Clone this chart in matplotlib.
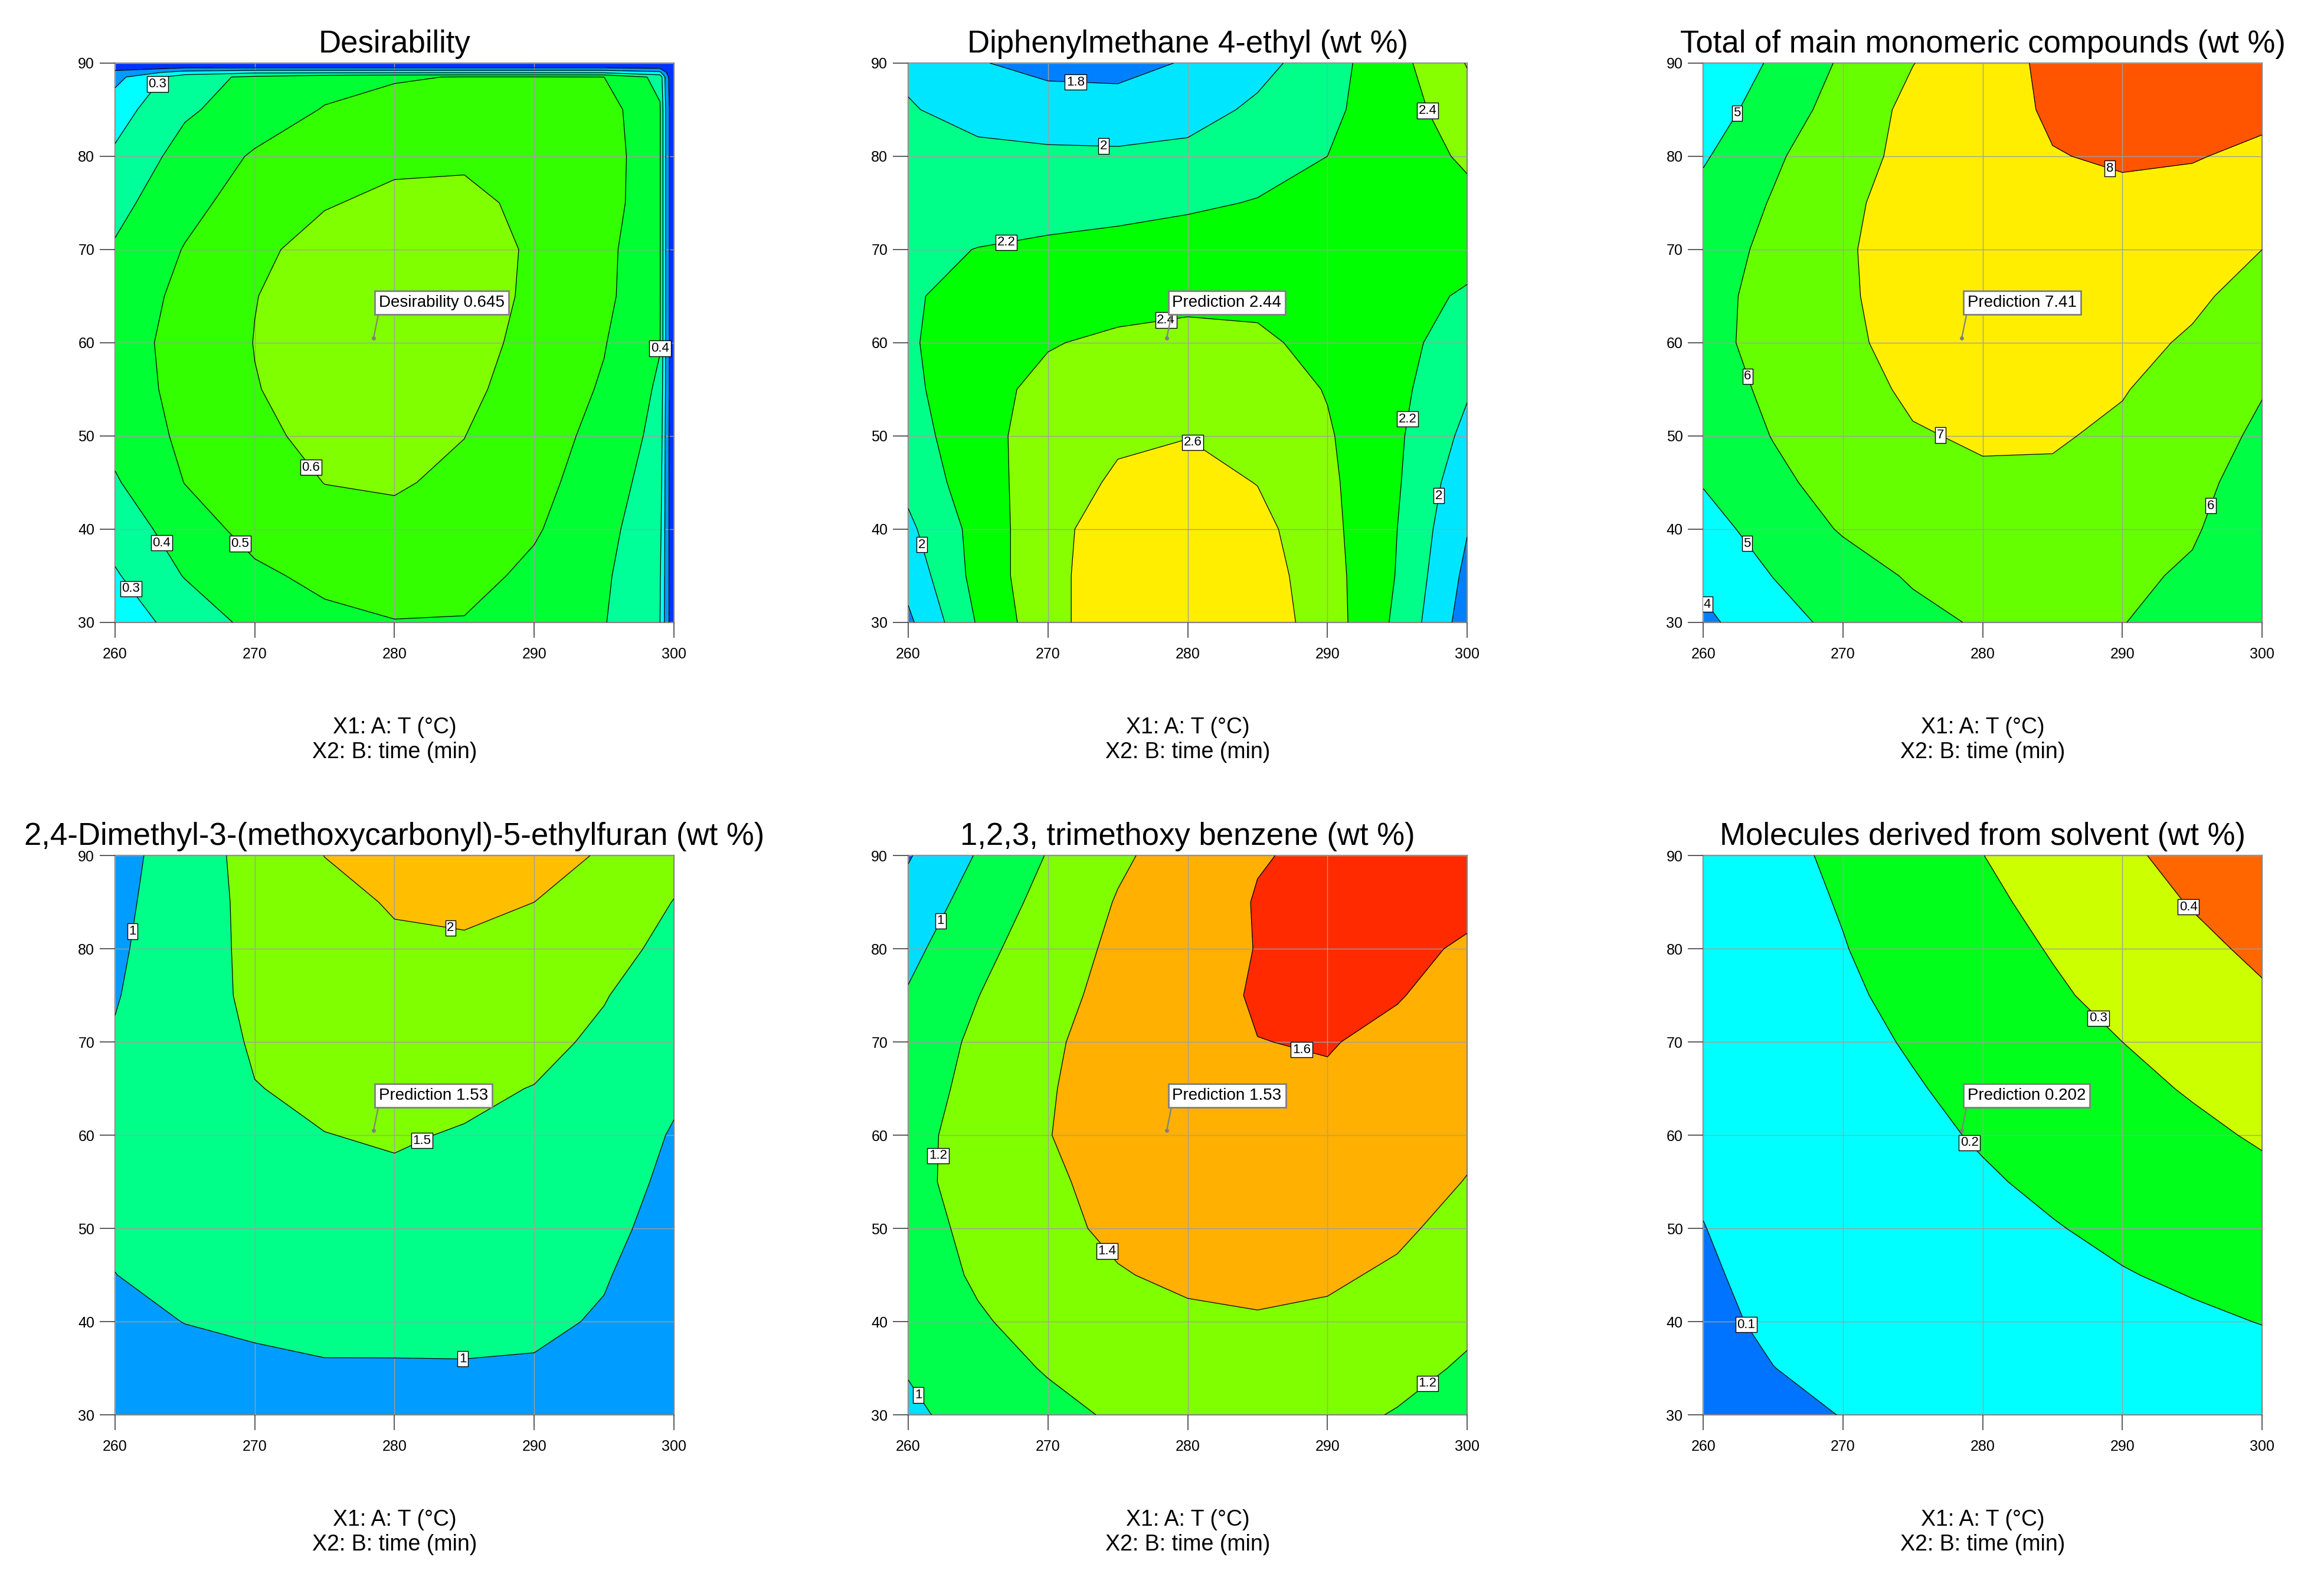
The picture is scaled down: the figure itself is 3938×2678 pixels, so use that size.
import numpy as np
import matplotlib
matplotlib.use('Agg')
import matplotlib.pyplot as plt

plt.rcParams['font.family'] = ['Liberation Sans', 'DejaVu Sans']

# ---------------- data ----------------
temp_ticks = [260, 270, 280, 290, 300]
time_ticks = [30, 40, 50, 60, 70, 80, 90]
grid_T = [260, 265, 270, 275, 280, 285, 290, 295, 300]
grid_t = [30, 35, 40, 45, 50, 55, 60, 65, 70, 75, 80, 85, 90]

pred_T = 278.5
pred_t = 60.5

# Desirability (finer nodes near the upper and right borders)
desir_T = [260, 265, 270, 275, 280, 285, 290, 295, 299, 299.5, 300]
desir_t = [30, 35, 40, 45, 50, 55, 60, 65, 70, 75, 80, 85, 88.5, 89, 89.5, 90]
desir_z = [
    [0.25, 0.335, 0.43, 0.475, 0.497, 0.495, 0.46, 0.405, 0.30, 0.14, 0],
    [0.29, 0.405, 0.48, 0.525, 0.54, 0.53, 0.48, 0.415, 0.31, 0.14, 0],
    [0.34, 0.45, 0.535, 0.575, 0.582, 0.565, 0.51, 0.43, 0.33, 0.14, 0],
    [0.39, 0.502, 0.565, 0.601, 0.607, 0.585, 0.53, 0.45, 0.35, 0.14, 0],
    [0.43, 0.52, 0.585, 0.618, 0.625, 0.601, 0.545, 0.47, 0.37, 0.14, 0],
    [0.45, 0.53, 0.597, 0.628, 0.637, 0.62, 0.56, 0.49, 0.385, 0.15, 0],
    [0.455, 0.535, 0.602, 0.635, 0.645, 0.632, 0.575, 0.505, 0.405, 0.15, 0],
    [0.44, 0.525, 0.598, 0.635, 0.648, 0.64, 0.585, 0.525, 0.41, 0.15, 0],
    [0.41, 0.505, 0.585, 0.625, 0.64, 0.635, 0.59, 0.53, 0.41, 0.15, 0],
    [0.37, 0.47, 0.545, 0.595, 0.615, 0.615, 0.585, 0.555, 0.41, 0.15, 0],
    [0.315, 0.44, 0.51, 0.56, 0.585, 0.59, 0.58, 0.56, 0.41, 0.15, 0],
    [0.26, 0.385, 0.45, 0.505, 0.54, 0.555, 0.555, 0.545, 0.41, 0.15, 0],
    [0.17, 0.36, 0.42, 0.47, 0.49, 0.505, 0.505, 0.50, 0.37, 0.13, 0],
    [0.12, 0.24, 0.28, 0.28, 0.28, 0.28, 0.28, 0.28, 0.22, 0.09, 0],
    [0.07, 0.095, 0.095, 0.095, 0.095, 0.095, 0.095, 0.095, 0.08, 0.04, 0],
    [0, 0, 0, 0, 0, 0, 0, 0, 0, 0, 0],
]
desir_levels = [0.1, 0.2, 0.3, 0.4, 0.5, 0.6]
desir_pred = 0.645

# Diphenylmethane 4-ethyl (wt %)
dpm_z = [
    [1.76, 2.22, 2.54, 2.72, 2.77, 2.72, 2.50, 2.16, 1.70],
    [1.87, 2.27, 2.55, 2.70, 2.75, 2.70, 2.48, 2.19, 1.75],
    [1.96, 2.27, 2.55, 2.68, 2.72, 2.66, 2.46, 2.20, 1.81],
    [2.05, 2.32, 2.50, 2.63, 2.67, 2.595, 2.44, 2.22, 1.87],
    [2.11, 2.34, 2.48, 2.57, 2.595, 2.55, 2.42, 2.23, 1.95],
    [2.15, 2.35, 2.44, 2.52, 2.55, 2.50, 2.39, 2.25, 2.02],
    [2.18, 2.30, 2.39, 2.43, 2.45, 2.43, 2.35, 2.26, 2.10],
    [2.18, 2.26, 2.30, 2.34, 2.36, 2.36, 2.33, 2.26, 2.18],
    [2.15, 2.205, 2.24, 2.27, 2.29, 2.30, 2.30, 2.28, 2.26],
    [2.11, 2.10, 2.11, 2.13, 2.17, 2.21, 2.26, 2.30, 2.35],
    [2.07, 2.05, 2.04, 2.04, 2.06, 2.12, 2.20, 2.30, 2.43],
    [2.015, 1.93, 1.88, 1.85, 1.91, 2.04, 2.16, 2.31, 2.52],
    [1.96, 1.81, 1.75, 1.76, 1.81, 1.93, 2.12, 2.34, 2.61],
]
dpm_levels = [1.8, 2.0, 2.2, 2.4, 2.6]
dpm_pred = 2.44

# Total of main monomeric compounds (wt %)
tot_z = [
    [3.8, 4.6, 5.3, 5.75, 6.1, 6.12, 6.02, 5.7, 5.2],
    [4.2, 5.02, 5.6, 6.1, 6.3, 6.28, 6.15, 5.9, 5.35],
    [4.6, 5.45, 6.08, 6.45, 6.62, 6.6, 6.4, 6.08, 5.5],
    [5.06, 5.8, 6.35, 6.7, 6.87, 6.87, 6.6, 6.2, 5.68],
    [5.4, 6.03, 6.5, 6.93, 7.1, 7.08, 6.85, 6.35, 5.86],
    [5.65, 6.15, 6.65, 7.15, 7.3, 7.25, 7.05, 6.6, 6.04],
    [5.78, 6.25, 6.85, 7.25, 7.42, 7.4, 7.23, 6.9, 6.35],
    [5.75, 6.25, 6.9, 7.3, 7.43, 7.45, 7.35, 7.15, 6.68],
    [5.6, 6.2, 6.92, 7.3, 7.48, 7.55, 7.5, 7.3, 7.0],
    [5.3, 6.07, 6.85, 7.3, 7.55, 7.75, 7.85, 7.72, 7.4],
    [4.9, 5.85, 6.65, 7.25, 7.6, 7.97, 8.08, 8.05, 7.83],
    [4.5, 5.47, 6.4, 7.25, 7.68, 8.1, 8.35, 8.35, 8.2],
    [4.1, 5.14, 6.14, 6.98, 7.6, 8.2, 8.5, 8.6, 8.5],
]
tot_levels = [4, 5, 6, 7, 8]
tot_pred = 7.41

# 2,4-Dimethyl-3-(methoxycarbonyl)-5-ethylfuran (wt %)
fur_z = [
    [0.80, 0.83, 0.86, 0.88, 0.89, 0.89, 0.87, 0.77, 0.55],
    [0.86, 0.90, 0.94, 0.965, 0.96, 0.965, 0.96, 0.85, 0.62],
    [0.92, 1.005, 1.05, 1.12, 1.14, 1.14, 1.08, 0.96, 0.70],
    [0.995, 1.14, 1.23, 1.28, 1.31, 1.30, 1.24, 1.03, 0.77],
    [1.07, 1.21, 1.31, 1.37, 1.40, 1.39, 1.31, 1.11, 0.84],
    [1.12, 1.26, 1.37, 1.43, 1.46, 1.44, 1.36, 1.17, 0.91],
    [1.13, 1.29, 1.42, 1.495, 1.525, 1.48, 1.40, 1.22, 0.97],
    [1.11, 1.30, 1.49, 1.56, 1.58, 1.56, 1.49, 1.31, 1.06],
    [1.04, 1.28, 1.54, 1.64, 1.69, 1.68, 1.60, 1.43, 1.16],
    [0.97, 1.32, 1.58, 1.72, 1.80, 1.80, 1.70, 1.52, 1.27],
    [0.92, 1.30, 1.60, 1.78, 1.93, 1.96, 1.87, 1.65, 1.38],
    [0.87, 1.283, 1.618, 1.863, 2.04, 2.06, 2.0, 1.755, 1.49],
    [0.82, 1.255, 1.667, 2.005, 2.08, 2.11, 2.08, 1.98, 1.62],
]
fur_levels = [1.0, 1.5, 2.0]
fur_pred = 1.53

# 1,2,3, trimethoxy benzene (wt %)
tmb_z = [
    [0.97, 1.06, 1.145, 1.225, 1.255, 1.265, 1.245, 1.19, 1.125],
    [1.01, 1.12, 1.215, 1.275, 1.31, 1.32, 1.30, 1.25, 1.18],
    [1.06, 1.18, 1.27, 1.33, 1.37, 1.385, 1.37, 1.315, 1.232],
    [1.10, 1.225, 1.315, 1.39, 1.43, 1.445, 1.425, 1.375, 1.286],
    [1.13, 1.245, 1.36, 1.43, 1.465, 1.48, 1.47, 1.43, 1.34],
    [1.15, 1.27, 1.375, 1.45, 1.50, 1.52, 1.51, 1.47, 1.394],
    [1.15, 1.265, 1.395, 1.48, 1.54, 1.56, 1.56, 1.515, 1.434],
    [1.12, 1.252, 1.389, 1.47, 1.53, 1.565, 1.585, 1.555, 1.473],
    [1.08, 1.237, 1.377, 1.465, 1.535, 1.598, 1.607, 1.571, 1.512],
    [1.015, 1.197, 1.344, 1.455, 1.54, 1.615, 1.63, 1.607, 1.551],
    [0.95, 1.144, 1.309, 1.437, 1.53, 1.605, 1.625, 1.62, 1.59],
    [0.87, 1.087, 1.26, 1.412, 1.51, 1.61, 1.65, 1.66, 1.62],
    [0.785, 1.016, 1.21, 1.37, 1.485, 1.59, 1.63, 1.65, 1.645],
]
tmb_levels = [0.8, 1.0, 1.2, 1.4, 1.6]
tmb_pred = 1.53

# Molecules derived from solvent (wt %)
sol_z = [
    [0.080, 0.090, 0.101, 0.109, 0.117, 0.125, 0.134, 0.142, 0.150],
    [0.085, 0.0995, 0.111, 0.122, 0.132, 0.143, 0.154, 0.164, 0.175],
    [0.090, 0.107, 0.120, 0.134, 0.148, 0.161, 0.175, 0.188, 0.202],
    [0.094, 0.113, 0.129, 0.146, 0.162, 0.179, 0.196, 0.212, 0.229],
    [0.099, 0.119, 0.138, 0.158, 0.177, 0.196, 0.216, 0.235, 0.255],
    [0.105, 0.127, 0.149, 0.170, 0.192, 0.214, 0.237, 0.259, 0.282],
    [0.111, 0.135, 0.159, 0.183, 0.207, 0.233, 0.258, 0.283, 0.309],
    [0.117, 0.143, 0.169, 0.194, 0.222, 0.250, 0.279, 0.307, 0.336],
    [0.123, 0.151, 0.178, 0.207, 0.238, 0.269, 0.300, 0.331, 0.363],
    [0.130, 0.159, 0.188, 0.220, 0.254, 0.289, 0.323, 0.357, 0.390],
    [0.137, 0.167, 0.197, 0.233, 0.269, 0.305, 0.342, 0.379, 0.417],
    [0.143, 0.173, 0.205, 0.244, 0.283, 0.323, 0.364, 0.405, 0.444],
    [0.150, 0.180, 0.214, 0.256, 0.299, 0.342, 0.385, 0.427, 0.470],
]
sol_levels = [0.1, 0.2, 0.3, 0.4]
sol_pred = 0.202

# ---------------- styling / layout ----------------
panels = [
    dict(title='Desirability', x=desir_T, y=desir_t, z=desir_z, levels=desir_levels,
         colors=['#0033FF', '#0099FF', '#00FFFF', '#00FF99', '#00FF33', '#33FF00', '#80FF00'],
         lab=[(262.9, 87.9), (298.9, 59.4), (274.0, 46.6), (269.0, 38.5), (263.1, 38.3), (261.4, 33.9)],
         pred='Desirability %s' % desir_pred),
    dict(title='Diphenylmethane 4-ethyl (wt %)', x=grid_T, y=grid_t, z=dpm_z, levels=dpm_levels,
         colors=['#0080FF', '#00E6FF', '#00FF88', '#00FF00', '#88FF00', '#FFEE00'],
         lab=[(272.0, 88.8), (274.0, 81.5), (266.9, 71.8), (278.4, 62.9), (280.7, 50.1),
              (295.4, 51.9), (297.9, 43.6), (260.9, 38.3), (297.2, 84.9)],
         pred='Prediction %s' % dpm_pred),
    dict(title='Total of main monomeric compounds (wt %)', x=grid_T, y=grid_t, z=tot_z,
         levels=tot_levels,
         colors=['#0080FF', '#00FFFF', '#00FF44', '#66FF00', '#FFEE00', '#FF5500'],
         lab=[(262.0, 85.0), (263.2, 56.4), (276.9, 49.9), (288.9, 77.8), (295.6, 42.9),
              (263.0, 38.3), (260.6, 32.3)],
         pred='Prediction %s' % tot_pred),
    dict(title='2,4-Dimethyl-3-(methoxycarbonyl)-5-ethylfuran (wt %)', x=grid_T, y=grid_t,
         z=fur_z, levels=fur_levels,
         colors=['#009CFF', '#00FF88', '#80FF00', '#FFBF00'],
         lab=[(261.1, 81.9), (283.9, 81.2), (281.9, 59.6), (284.9, 36.6)],
         pred='Prediction %s' % fur_pred),
    dict(title='1,2,3, trimethoxy benzene (wt %)', x=grid_T, y=grid_t, z=tmb_z,
         levels=tmb_levels,
         colors=['#0050FF', '#00DDFF', '#00FF4C', '#80FF00', '#FFB000', '#FF2A00'],
         lab=[(261.9, 83.3), (287.9, 67.8), (262.2, 57.8), (274.1, 47.4), (260.9, 32.3), (296.9, 33.9)],
         pred='Prediction %s' % tmb_pred),
    dict(title='Molecules derived from solvent (wt %)', x=grid_T, y=grid_t, z=sol_z,
         levels=sol_levels,
         colors=['#0073FF', '#00FFFF', '#00FF1A', '#CCFF00', '#FF6600'],
         lab=[(295.0, 84.9), (288.5, 72.9), (279.2, 59.4), (263.2, 39.8)],
         pred='Prediction %s' % sol_pred),
]

fig = plt.figure(figsize=(39.38, 26.78), dpi=100)
lefts = [0.0495, 0.3908, 0.7329]
bottoms = [0.6061, 0.1045]
W, H = 0.2405, 0.354


def fmt(v):
    return '%g' % v


for i, p in enumerate(panels):
    ax = fig.add_axes([lefts[i % 3], bottoms[i // 3], W, H])
    Z = np.array(p['z'], dtype=float)
    lv = list(p['levels'])
    lo = min(Z.min(), lv[0]) - 1.0
    hi = max(Z.max(), lv[-1]) + 1.0
    ax.contourf(p['x'], p['y'], Z, levels=[lo] + lv + [hi], colors=p['colors'], zorder=1)
    cs = ax.contour(p['x'], p['y'], Z, levels=lv, colors='black', linewidths=0.9, zorder=3)
    texts = ax.clabel(cs, manual=p['lab'], inline=False, fmt=fmt, fontsize=16, zorder=6)
    for t in texts:
        t.set_rotation(0)
        t.set_bbox(dict(boxstyle='square,pad=0.12', fc='white', ec='black', lw=1.0))
        t.set_zorder(6)

    ax.set_xlim(260, 300)
    ax.set_ylim(30, 90)
    ax.set_xticks(temp_ticks)
    ax.set_yticks(time_ticks)
    ax.grid(True, color='#A0A0A0', linewidth=1.0)
    ax.set_axisbelow(False)
    for s in ax.spines.values():
        s.set_color('#808080')
        s.set_linewidth(1.6)
    ax.tick_params(axis='both', direction='out', length=19, width=1.2, color='#404040',
                   labelsize=18, labelcolor='black')
    ax.tick_params(axis='x', pad=11)
    ax.tick_params(axis='y', pad=6)

    ax.set_title(p['title'], fontsize=38, pad=13)
    ax.text(0.5, -0.188, 'X1: A: T (°C)', transform=ax.transAxes, ha='center', va='center',
            fontsize=27)
    ax.text(0.5, -0.232, 'X2: B: time (min)', transform=ax.transAxes, ha='center', va='center',
            fontsize=27)

    # prediction flag
    ax.plot([pred_T], [pred_t], 'o', ms=4, color='#808080', zorder=9)
    ax.annotate(p['pred'], xy=(pred_T, pred_t), xytext=(pred_T + 0.4, pred_t + 2.95),
                textcoords='data', ha='left', va='bottom', fontsize=20, zorder=10,
                bbox=dict(boxstyle='square,pad=0.25', fc='white', ec='#808080', lw=2),
                arrowprops=dict(arrowstyle='-', color='#808080', lw=1.6, relpos=(0, 0),
                                shrinkA=0, shrinkB=0))

fig.savefig('out.png', dpi=100, facecolor='white')
